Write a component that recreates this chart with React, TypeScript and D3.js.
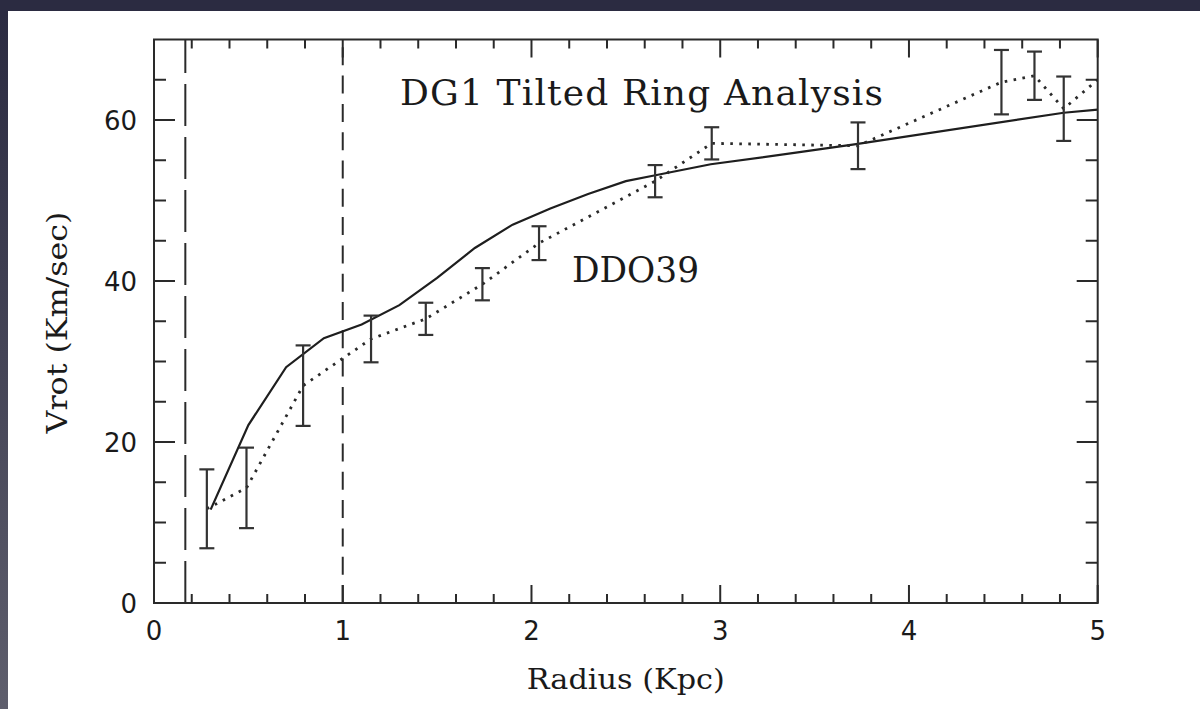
import React from "react";
import * as d3 from "d3";

// Model rotation curve (solid line)
const modelRadius = [0.3, 0.5, 0.7, 0.9, 1.1, 1.3, 1.5, 1.7, 1.9, 2.1, 2.3, 2.5, 2.65, 2.95, 3.42, 3.72, 4.82, 5.0];
const modelVrot = [11.6, 22.1, 29.3, 32.9, 34.6, 37.0, 40.4, 44.1, 47.0, 49.0, 50.8, 52.4, 53.1, 54.5, 56.0, 57.0, 60.9, 61.3];

// Tilted-ring measurements (dotted line with error bars); last point has no bar
const obsRadius = [0.28, 0.49, 0.79, 1.15, 1.44, 1.74, 2.04, 2.655, 2.955, 3.73, 4.49, 4.665, 4.82, 5.0];
const obsVrot = [11.7, 14.3, 27.0, 32.8, 35.3, 39.6, 44.7, 52.4, 57.1, 56.8, 64.7, 65.5, 61.4, 65.0];
const obsErr: (number | null)[] = [4.9, 5.0, 5.0, 2.9, 2.0, 2.0, 2.1, 2.0, 2.0, 2.9, 4.0, 3.0, 4.0, null];

// Vertical reference lines (radius, dash pattern)
const guideRadius = [0.166, 1.0];
const guideDash = ["42 11", "18 10.3"];

const xTicks = [0, 1, 2, 3, 4, 5];
const yTicks = [0, 20, 40, 60];

const title = "DG1 Tilted Ring Analysis";
const galaxyLabel = "DDO39";
const xLabel = "Radius (Kpc)";
const yLabel = "Vrot (Km/sec)";

const W = 1200;
const H = 709;
const L = 154, R = 1097.7, T = 39.5, B = 603;
const INK = "#2a2a2a";

export default function App() {
  const x = d3.scaleLinear().domain([0, 5]).range([L, R]);
  const y = d3.scaleLinear().domain([0, 70]).range([B, T]);

  const xMinor = d3.range(0, 5.0001, 0.2).filter((v) => Math.abs(v - Math.round(v)) > 1e-6);
  const yMinor = d3.range(5, 70, 5).filter((v) => v % 20 !== 0);

  const line = d3
    .line<[number, number]>()
    .x((d) => x(d[0]))
    .y((d) => y(d[1]));

  const modelPath = line(modelRadius.map((r, i) => [r, modelVrot[i]]))!;
  const obsPath = line(obsRadius.map((r, i) => [r, obsVrot[i]]))!;

  const cap = 7.5;

  return (
    <svg
      width={W}
      height={H}
      style={{ position: "absolute", left: 0, top: 0, display: "block" }}
    >
      <defs>
        <linearGradient id="sideBand" x1="0" y1="0" x2="0" y2="1">
          <stop offset="0" stopColor="#2a2a40" />
          <stop offset="1" stopColor="#5e5e6c" />
        </linearGradient>
        <clipPath id="plotArea">
          <rect x={L} y={T} width={R - L} height={B - T} />
        </clipPath>
      </defs>

      {/* page background with dark frame on top and left */}
      <rect x={0} y={0} width={W} height={H} fill="#ffffff" />
      <rect x={0} y={0} width={8} height={H} fill="url(#sideBand)" />
      <rect x={0} y={0} width={W} height={11} fill="#2b2b41" />

      {/* vertical reference lines, dashed from the bottom up */}
      {guideRadius.map((g, i) => (
        <line
          key={"g" + i}
          x1={x(g)}
          x2={x(g)}
          y1={B}
          y2={T}
          stroke={INK}
          strokeWidth={2}
          strokeDasharray={guideDash[i]}
        />
      ))}

      <g clipPath="url(#plotArea)">
        {/* model curve */}
        <path d={modelPath} fill="none" stroke="#1e1e1e" strokeWidth={2.2} />
        {/* measured curve */}
        <path
          d={obsPath}
          fill="none"
          stroke="#2a2a2a"
          strokeWidth={2.8}
          strokeDasharray="2.6 6.4"
        />
      </g>

      {/* error bars */}
      {obsRadius.map((r, i) => {
        const e = obsErr[i];
        if (e == null) return null;
        const cx = x(r);
        const y0 = y(obsVrot[i] - e);
        const y1 = y(obsVrot[i] + e);
        return (
          <g key={"e" + i} stroke="#333" strokeWidth={2.2}>
            <line x1={cx} x2={cx} y1={y0} y2={y1} />
            <line x1={cx - cap} x2={cx + cap} y1={y0} y2={y0} />
            <line x1={cx - cap} x2={cx + cap} y1={y1} y2={y1} />
          </g>
        );
      })}

      {/* ticks: bottom and top */}
      <g stroke={INK} strokeWidth={2}>
        {xTicks.map((v) => (
          <g key={"xt" + v}>
            <line x1={x(v)} x2={x(v)} y1={B} y2={B - 18} />
            <line x1={x(v)} x2={x(v)} y1={T} y2={T + 18} />
          </g>
        ))}
        {xMinor.map((v) => (
          <g key={"xm" + v}>
            <line x1={x(v)} x2={x(v)} y1={B} y2={B - 9} />
            <line x1={x(v)} x2={x(v)} y1={T} y2={T + 9} />
          </g>
        ))}
        {yTicks.map((v) => (
          <g key={"yt" + v}>
            <line x1={L} x2={L + 21} y1={y(v)} y2={y(v)} />
            <line x1={R} x2={R - 21} y1={y(v)} y2={y(v)} />
          </g>
        ))}
        {yMinor.map((v) => (
          <g key={"ym" + v}>
            <line x1={L} x2={L + 12} y1={y(v)} y2={y(v)} />
            <line x1={R} x2={R - 12} y1={y(v)} y2={y(v)} />
          </g>
        ))}
      </g>

      {/* plot frame */}
      <rect
        x={L}
        y={T}
        width={R - L}
        height={B - T}
        fill="none"
        stroke={INK}
        strokeWidth={2}
      />

      {/* tick labels */}
      <g fontFamily="'DejaVu Sans', sans-serif" fontSize={26} fill="#1a1a1a">
        {xTicks.map((v) => (
          <text key={"xl" + v} x={x(v)} y={640} textAnchor="middle">
            {v}
          </text>
        ))}
        {yTicks.map((v) => (
          <text key={"yl" + v} x={137} y={y(v) + 9.5} textAnchor="end">
            {v}
          </text>
        ))}
      </g>

      {/* annotations */}
      <g fontFamily="'DejaVu Serif', serif" fill="#1a1a1a">
        <text x={400} y={105} fontSize={36} textLength={483} lengthAdjust="spacing">
          {title}
        </text>
        <text x={572} y={282} fontSize={36} textLength={127} lengthAdjust="spacingAndGlyphs">
          {galaxyLabel}
        </text>
        <text
          x={(L + R) / 2}
          y={689}
          fontSize={28}
          textAnchor="middle"
          textLength={198}
          lengthAdjust="spacingAndGlyphs"
        >
          {xLabel}
        </text>
        <text
          transform={`translate(67, 322.5) rotate(-90)`}
          fontSize={28}
          textAnchor="middle"
          textLength={222}
          lengthAdjust="spacingAndGlyphs"
        >
          {yLabel}
        </text>
      </g>
    </svg>
  );
}
